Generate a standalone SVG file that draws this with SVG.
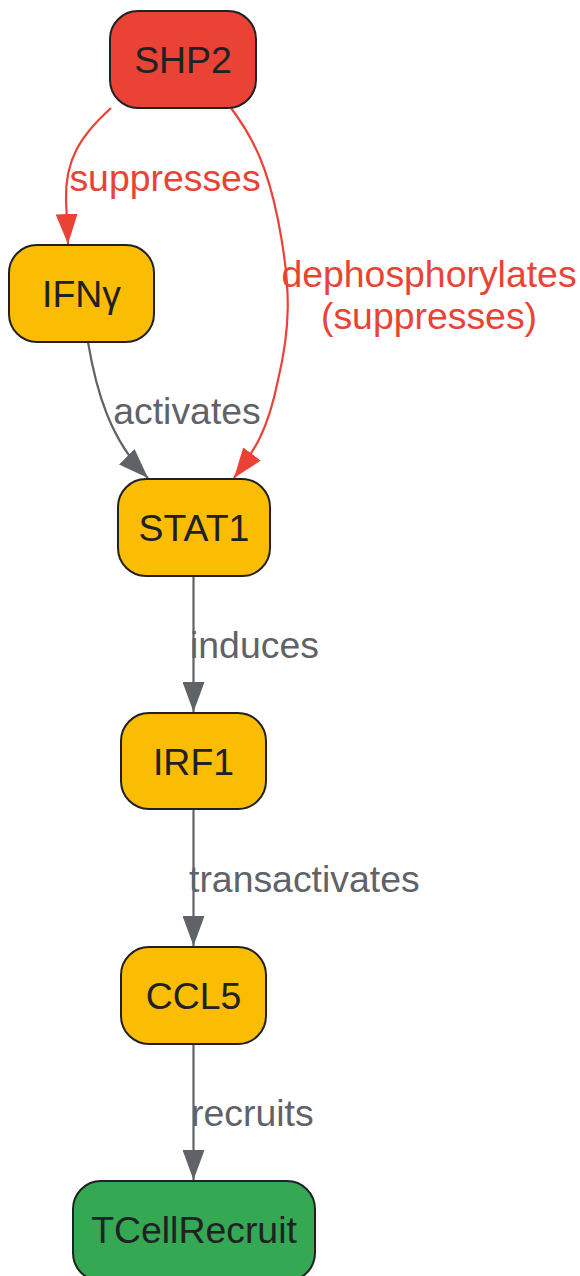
<svg xmlns="http://www.w3.org/2000/svg" width="580" height="1276" viewBox="0 0 580 1276">
<style>
.node rect{stroke:#202124;stroke-width:2}
.node text{font-family:"Liberation Sans",Arial,sans-serif;font-size:37.4px;fill:#202124;text-anchor:middle}
.lbl{font-family:"Liberation Sans",Arial,sans-serif;font-size:37.4px}
.g{fill:#5F6368}
.r{fill:#EA4335}
.eg{fill:none;stroke:#5F6368;stroke-width:2.2}
.er{fill:none;stroke:#EA4335;stroke-width:2.2}
</style>
<defs>
<marker id="ag" markerUnits="userSpaceOnUse" markerWidth="32" markerHeight="22" refX="30" refY="11" orient="auto" viewBox="0 0 32 22"><path d="M0,0 L30,11 L0,22 Z" fill="#5F6368"/></marker>
<marker id="ar" markerUnits="userSpaceOnUse" markerWidth="32" markerHeight="22" refX="30" refY="11" orient="auto" viewBox="0 0 32 22"><path d="M0,0 L30,11 L0,22 Z" fill="#EA4335"/></marker>
</defs>
<rect width="580" height="1276" fill="#ffffff"/>
<g id="edges">
<path class="er" d="M111,108 C80,136 65,160 66,200 L68,244" marker-end="url(#ar)"/>
<path class="er" d="M231,108 C255,140 268,170 278,220 C292,290 290,330 278,380 C268,430 255,450 234,478" marker-end="url(#ar)"/>
<path class="eg" d="M88,342 C96,390 110,440 148,478" marker-end="url(#ag)"/>
<path class="eg" d="M193.5,576 L193.5,712" marker-end="url(#ag)"/>
<path class="eg" d="M193.5,809 L193.5,946" marker-end="url(#ag)"/>
<path class="eg" d="M193.5,1044 L193.5,1180" marker-end="url(#ag)"/>
</g>
<g id="edge-labels">
<text class="lbl r" x="165" y="191" text-anchor="middle">suppresses</text>
<text class="lbl r" x="429" y="287" text-anchor="middle">dephosphorylates</text>
<text class="lbl r" x="429" y="329" text-anchor="middle">(suppresses)</text>
<text class="lbl g" x="187" y="424" text-anchor="middle">activates</text>
<text class="lbl g" x="190" y="658">induces</text>
<text class="lbl g" x="189" y="892">transactivates</text>
<text class="lbl g" x="191" y="1126">recruits</text>
</g>
<g id="SHP2" class="node"><rect x="110" y="11" width="146" height="97" rx="28" fill="#EA4335"/><text x="183" y="73">SHP2</text></g>
<g id="IFNg" class="node"><rect x="9" y="245" width="145" height="97" rx="28" fill="#FBBC04"/><text x="81.5" y="307">IFNγ</text></g>
<g id="STAT1" class="node"><rect x="118" y="479" width="152" height="97" rx="28" fill="#FBBC04"/><text x="194" y="541">STAT1</text></g>
<g id="IRF1" class="node"><rect x="121" y="713" width="145" height="96" rx="28" fill="#FBBC04"/><text x="193.5" y="775">IRF1</text></g>
<g id="CCL5" class="node"><rect x="121" y="947" width="145" height="97" rx="28" fill="#FBBC04"/><text x="193.5" y="1009">CCL5</text></g>
<g id="TCellRecruit" class="node"><rect x="73" y="1181" width="242" height="100" rx="28" fill="#34A853"/><text x="194" y="1243">TCellRecruit</text></g>
</svg>
